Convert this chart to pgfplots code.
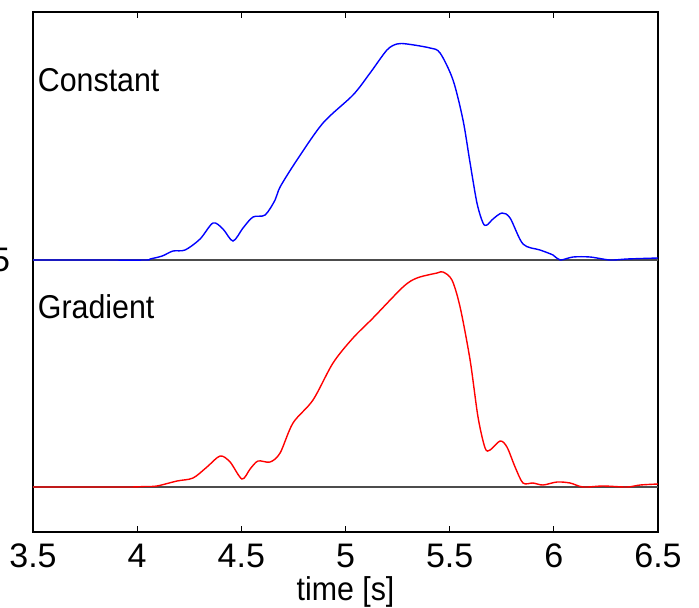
\documentclass[border=0pt]{standalone}
\usepackage{fontspec}
\setmainfont{Liberation Sans}
\newfontfamily\lblfont{Liberation Sans}[FakeStretch=0.92]
\usepackage{pgfplots}
\usepackage{pgfplotstable}
\pgfplotsset{compat=1.18}

% heights above each trace's own baseline
\pgfplotstableread{
x h
3.500 0
3.800 0
4.038 0
4.062 1
4.120 4
4.172 9
4.230 10
4.302 21
4.364 37
4.412 31
4.460 19
4.508 32
4.556 43
4.614 45
4.662 60
4.686 73
4.767 100
4.892 137
5.036 165
5.118 187
5.199 210
5.247 216
5.295 216
5.406 212
5.454 207
5.516 180
5.564 140
5.598 97
5.631 57
5.660 37
5.679 35
5.708 41
5.751 47
5.790 42
5.852 16
5.934 10
5.996 5
6.030 0
6.092 3
6.174 3
6.270 0
6.351 1
6.500 2
}\constant

\pgfplotstableread{
x h
3.500 0
3.800 0
3.966 0
4.038 0.5
4.095 1
4.191 6
4.268 9
4.335 20
4.398 31
4.446 25
4.503 8
4.542 18
4.580 26
4.638 25
4.686 34
4.748 64
4.844 87
4.940 124
5.036 149
5.132 169
5.276 200
5.343 209
5.439 214
5.468 215
5.511 207
5.550 180
5.598 127
5.636 70
5.670 39
5.694 37
5.742 46
5.775 40
5.814 20
5.852 4
5.900 4
5.948 2
6.015 5
6.078 4
6.140 0
6.236 1
6.351 0
6.414 2
6.500 3
}\gradient

\begin{document}
\begin{tikzpicture}
\begin{axis}[
  name=ax,
  scale only axis,
  width=312.5pt, height=260pt,
  xmin=3.5, xmax=6.5, ymin=0, ymax=520,
  xtick={3.5,4,4.5,5,5.5,6,6.5},
  xticklabels={3.5,4,4.5,5,5.5,6,6.5},
  ytick={272}, yticklabels={5},
  ytick style={draw=none},
  yticklabel style={font=\fontsize{17}{20}\selectfont, anchor=east, xshift=-8pt},
  xticklabel style={font=\fontsize{17}{20}\selectfont, anchor=base, yshift=-17.5pt},
  /pgf/number format/assume math mode=true,
  major tick length=3pt,
  tick style={black, line width=0.6pt},
  axis line style={black, line width=0.8pt},
  xlabel={time [s]},
  xlabel style={font=\lblfont\fontsize{16.5}{19}\selectfont, at={(axis description cs:0.5,0)}, anchor=base, yshift=-34pt},
  clip=true,
]
\addplot[gray!60!black, line width=0.6pt] coordinates {(3.5,272) (6.5,272)};
\addplot[gray!60!black, line width=0.6pt] coordinates {(3.5,45) (6.5,45)};
\addplot[blue, line width=0.7pt, smooth, tension=0.5] table[x=x, y expr=\thisrow{h}+272] {\constant};
\addplot[red, line width=0.7pt, smooth, tension=0.5] table[x=x, y expr=\thisrow{h}+45] {\gradient};
\node[anchor=base west, inner sep=0pt, font=\lblfont\fontsize{16.5}{19}\selectfont] at (axis cs:3.5216,441) {Constant};
\node[anchor=base west, inner sep=0pt, font=\lblfont\fontsize{16.5}{19}\selectfont] at (axis cs:3.5216,214) {Gradient};
\end{axis}
\pgfresetboundingbox
\path[use as bounding box] ([xshift=-16.5pt,yshift=-37.5pt]ax.south west) rectangle ([xshift=20.5pt,yshift=6pt]ax.north east);
\end{tikzpicture}
\end{document}
